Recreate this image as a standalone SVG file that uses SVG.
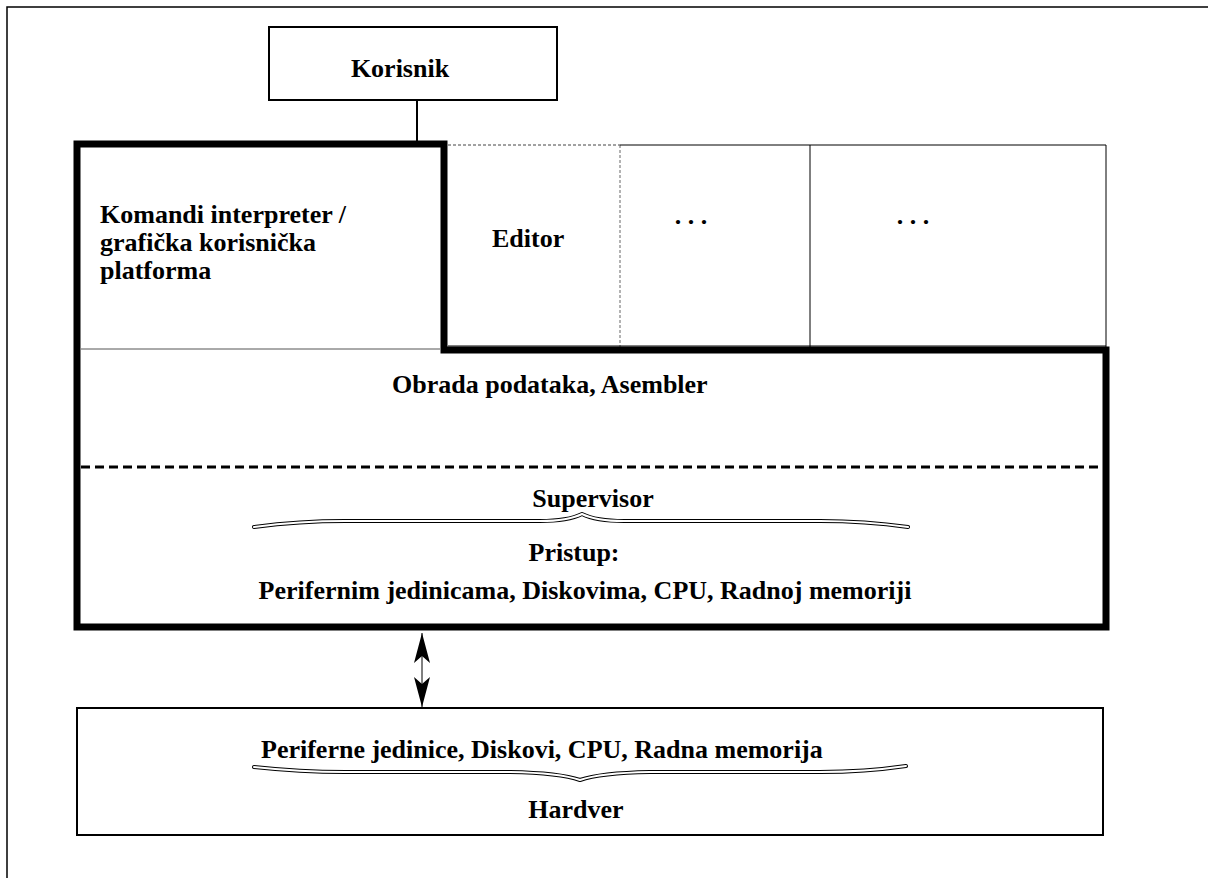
<svg xmlns="http://www.w3.org/2000/svg" width="1208" height="878" viewBox="0 0 1208 878">
<style>
text{font-family:"Liberation Serif","Times New Roman",serif;font-weight:bold;font-size:26px;fill:#000}
.mid{text-anchor:middle}
.thin{fill:none;stroke:#000;stroke-width:1}
.box{fill:#fff;stroke:#000;stroke-width:2}
.brace{fill:none;stroke:#000;stroke-width:4;stroke-linejoin:round;stroke-linecap:round}
.braceIn{fill:none;stroke:#fff;stroke-width:2;stroke-linejoin:round;stroke-linecap:round}
</style>
<defs>
<marker id="ah" viewBox="0 0 30 16" refX="30" refY="8" markerWidth="30" markerHeight="16" markerUnits="userSpaceOnUse" orient="auto-start-reverse">
<path d="M0,0 L30,8 L0,16 L7,8 Z" fill="#000"/>
</marker>
</defs>
<rect width="1208" height="878" fill="#fff"/>
<g id="frame">
<path d="M7 878 V7 H1208" fill="none" stroke="#000" stroke-width="1.5"/>
</g>
<g id="korisnik">
<rect class="box" x="269" y="27" width="288" height="73"/>
<text class="mid" x="400" y="77">Korisnik</text>
</g>
<g id="cells">
<path d="M448 145 H620" fill="none" stroke="#444" stroke-width="1" stroke-dasharray="3 2"/>
<path d="M620 145 V348" fill="none" stroke="#666" stroke-width="1" stroke-dasharray="3 2"/>
<path class="thin" d="M620 145 H1106 V347 M810 145 V347 M448 346 H1106"/>
<path d="M81 349 H440" fill="none" stroke="#555" stroke-width="1"/>
</g>
<g id="komandi">
<text x="100" y="223">Komandi interpreter /</text>
<text x="100" y="251">grafička korisnička</text>
<text x="100" y="279">platforma</text>
</g>
<g id="editor">
<text x="492" y="247">Editor</text>
</g>
<g id="dots1"><text class="mid" x="691" y="224">. . .</text></g>
<g id="dots2"><text class="mid" x="913" y="224">. . .</text></g>
<g id="system">
<path d="M77 144 H444 V350 H1106 V627 H77 Z" fill="none" stroke="#000" stroke-width="7" stroke-linejoin="miter"/>
<path d="M81 467 H1102" fill="none" stroke="#000" stroke-width="3" stroke-dasharray="9 5"/>
<text x="392" y="393">Obrada podataka, Asembler</text>
<text class="mid" x="593" y="507">Supervisor</text>
<path class="brace" d="M254 527 Q300 521 345 521 L540 521 Q568 521 582 514 Q596 521 624 521 L820 521 Q865 521 908 527"/>
<path class="braceIn" d="M254 527 Q300 521 345 521 L540 521 Q568 521 582 514 Q596 521 624 521 L820 521 Q865 521 908 527"/>
<text class="mid" x="574" y="561">Pristup:</text>
<text class="mid" x="585" y="599">Perifernim jedinicama, Diskovima, CPU, Radnoj memoriji</text>
</g>
<g id="hardver">
<rect class="box" x="77" y="708" width="1026" height="127"/>
<text x="261" y="758">Periferne jedinice, Diskovi, CPU, Radna memorija</text>
<path class="brace" d="M254 767 Q300 772 345 772 L510 772 Q560 773 580 780 Q600 773 650 772 L820 772 Q865 772 906 766"/>
<path class="braceIn" d="M254 767 Q300 772 345 772 L510 772 Q560 773 580 780 Q600 773 650 772 L820 772 Q865 772 906 766"/>
<text class="mid" x="576" y="818">Hardver</text>
</g>
<g id="connectors">
<line x1="417" y1="100" x2="417" y2="142" stroke="#000" stroke-width="2"/>
<line x1="422" y1="633" x2="422" y2="707" stroke="#000" stroke-width="1" marker-start="url(#ah)" marker-end="url(#ah)"/>
</g>
</svg>
